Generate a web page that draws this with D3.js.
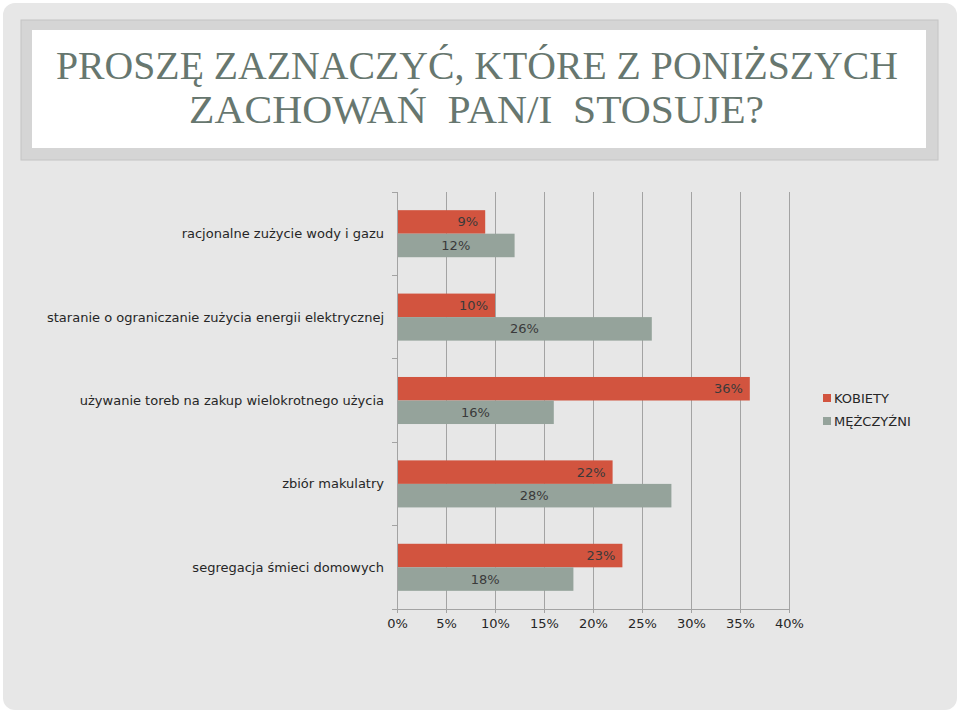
<!DOCTYPE html>
<html>
<head>
<meta charset="utf-8">
<script src="https://cdn.jsdelivr.net/npm/d3@7"></script>
<style>
  html, body { margin: 0; padding: 0; background: #ffffff; }
  svg { display: block; }
  text { white-space: pre; }
</style>
</head>
<body>
<svg id="chart" width="960" height="713"></svg>
<script>
// ---- data ----
const titleLines = ["PROSZĘ ZAZNACZYĆ, KTÓRE Z PONIŻSZYCH", "ZACHOWAŃ  PAN/I  STOSUJE?"];
const categories = [
  "racjonalne zużycie wody i gazu",
  "staranie o ograniczanie zużycia energii elektrycznej",
  "używanie toreb na zakup wielokrotnego użycia",
  "zbiór makulatry",
  "segregacja śmieci domowych"
];
const seriesNames = ["KOBIETY", "MĘŻCZYŹNI"];
const kobiety = [9, 10, 36, 22, 23];
const mezczyzni = [12, 26, 16, 28, 18];
const xTicks = [0, 5, 10, 15, 20, 25, 30, 35, 40];
const colors = ["#d2543f", "#95a39b"];

const svg = d3.select("#chart");
const font = "'DejaVu Sans', sans-serif";

// slide background
svg.append("rect").attr("x", 0).attr("y", 0).attr("width", 960).attr("height", 713).attr("fill", "#ffffff");
svg.append("rect").attr("x", 3).attr("y", 3).attr("width", 954).attr("height", 707)
  .attr("rx", 12).attr("fill", "#e7e7e7");

// title box
svg.append("rect").attr("x", 21).attr("y", 20).attr("width", 917).attr("height", 140)
  .attr("fill", "#d5d5d5").attr("stroke", "#c4c4c4").attr("stroke-width", 1);
svg.append("rect").attr("x", 32).attr("y", 30).attr("width", 894).attr("height", 118)
  .attr("fill", "#ffffff");

const titleG = svg.append("g");
const titleSpecs = [{x: 56, w: 842, y: 79}, {x: 189, w: 575, y: 123}];
titleLines.forEach((t, i) => {
  titleG.append("text")
    .attr("x", titleSpecs[i].x).attr("y", titleSpecs[i].y)
    .attr("textLength", titleSpecs[i].w).attr("lengthAdjust", "spacingAndGlyphs")
    .attr("font-family", "'Liberation Serif', serif")
    .attr("font-size", 39)
    .attr("fill", "#67776f")
    .text(t);
});

// chart area
const pLeft = 397, pRight = 789, pTop = 192, pBottom = 609;
const x = d3.scaleLinear().domain([0, 40]).range([pLeft, pRight]);
const y = d3.scaleBand().domain(categories).range([pTop, pBottom])
  .paddingInner(0.436).paddingOuter(0.218);
const ySub = d3.scaleBand().domain(seriesNames).range([0, y.bandwidth()]);

// gridlines
svg.append("g").selectAll("line").data(xTicks.slice(1)).join("line")
  .attr("x1", d => x(d)).attr("x2", d => x(d))
  .attr("y1", pTop).attr("y2", pBottom)
  .attr("stroke", "#a3a3a3").attr("stroke-width", 1)
  .attr("shape-rendering", "crispEdges");

// bars
const data = categories.map((c, i) => ({cat: c, vals: [kobiety[i], mezczyzni[i]]}));
const groups = svg.append("g").selectAll("g").data(data).join("g")
  .attr("transform", d => `translate(0,${y(d.cat)})`);

groups.selectAll("rect").data(d => d.vals.map((v, j) => ({v, s: seriesNames[j], j})))
  .join("rect")
  .attr("x", x(0))
  .attr("y", d => ySub(d.s))
  .attr("width", d => x(d.v) - x(0))
  .attr("height", ySub.bandwidth())
  .attr("fill", d => colors[d.j]);

// value labels: KOBIETY inside end, MĘŻCZYŹNI centered
groups.selectAll("text").data(d => d.vals.map((v, j) => ({v, s: seriesNames[j], j})))
  .join("text")
  .attr("x", d => d.j === 0 ? x(d.v) - 7 : (x(0) + x(d.v)) / 2)
  .attr("y", d => ySub(d.s) + ySub.bandwidth() / 2)
  .attr("dy", "0.35em")
  .attr("text-anchor", d => d.j === 0 ? "end" : "middle")
  .attr("font-family", font).attr("font-size", 13)
  .attr("fill", "#3a3a3a")
  .text(d => d.v + "%");

// y axis (category)
const yAxisG = svg.append("g").attr("transform", `translate(${pLeft},0)`);
yAxisG.append("line").attr("x1", 0).attr("x2", 0).attr("y1", pTop).attr("y2", pBottom)
  .attr("stroke", "#a3a3a3").attr("shape-rendering", "crispEdges");
const boundaries = d3.range(categories.length + 1).map(i => pTop + i * y.step());
yAxisG.selectAll("line.tick").data(boundaries).join("line").attr("class", "tick")
  .attr("x1", -5).attr("x2", 0).attr("y1", d => d).attr("y2", d => d)
  .attr("stroke", "#a3a3a3").attr("shape-rendering", "crispEdges");
svg.append("g").selectAll("text").data(categories).join("text")
  .attr("x", 384)
  .attr("y", d => y(d) + y.bandwidth() / 2)
  .attr("dy", "0.35em")
  .attr("text-anchor", "end")
  .attr("font-family", font).attr("font-size", 13)
  .attr("fill", "#262626")
  .text(d => d);

// x axis
const xAxis = d3.axisBottom(x).tickValues(xTicks).tickFormat(d => d + "%").tickSize(4).tickPadding(6);
const xAxisG = svg.append("g").attr("transform", `translate(0,${pBottom})`).call(xAxis);
xAxisG.select(".domain").attr("stroke", "#a3a3a3").attr("d", `M${pLeft},0.5H${pRight}`);
xAxisG.selectAll(".tick line").attr("stroke", "#a3a3a3");
xAxisG.selectAll(".tick text")
  .attr("font-family", font).attr("font-size", 13).attr("fill", "#262626");

// legend
const legend = svg.append("g").attr("transform", "translate(823,398)");
seriesNames.forEach((s, i) => {
  const g = legend.append("g").attr("transform", `translate(0,${i * 23})`);
  g.append("rect").attr("x", 0).attr("y", -4).attr("width", 8).attr("height", 8).attr("fill", colors[i]);
  g.append("text").attr("x", 11).attr("y", 0).attr("dy", "0.35em")
    .attr("font-family", font).attr("font-size", 13).attr("fill", "#262626")
    .text(s);
});
</script>
</body>
</html>
